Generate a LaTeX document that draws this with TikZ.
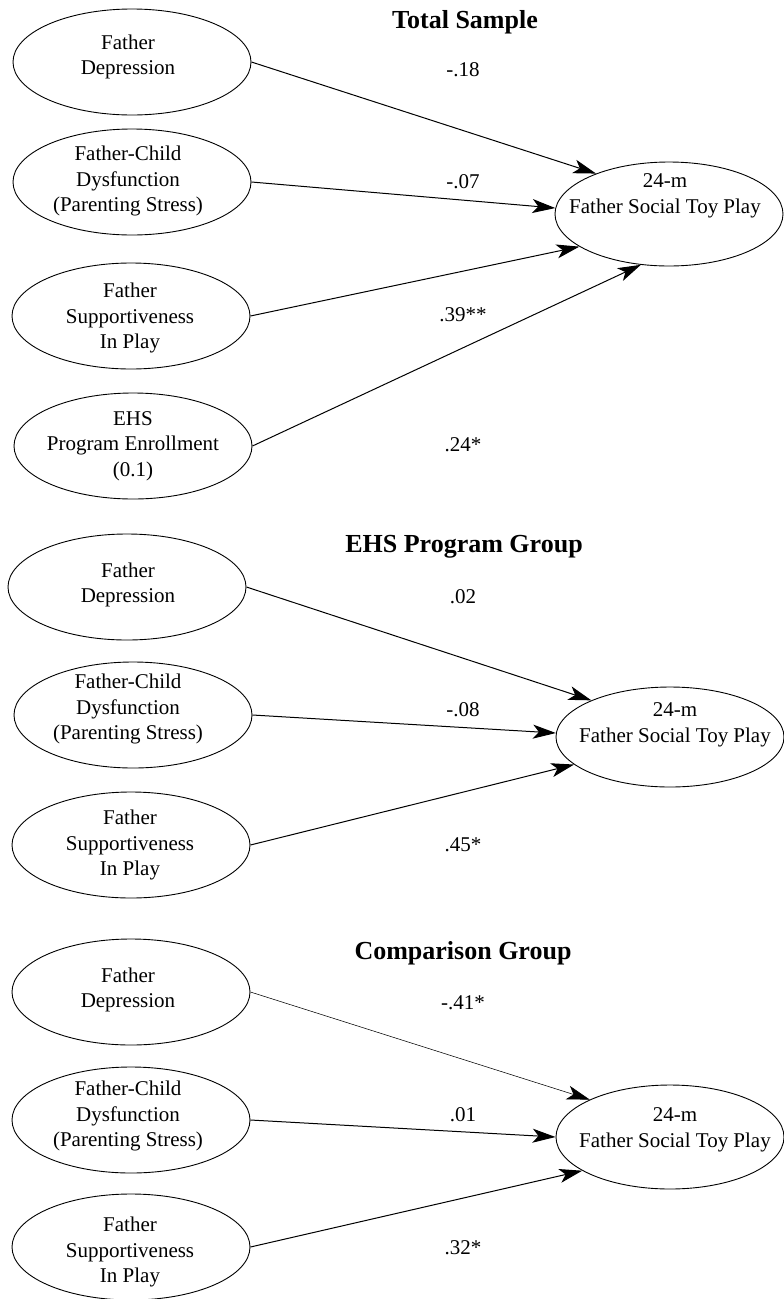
\documentclass[tikz,border=0pt]{standalone}
\usepackage{fontspec}
\setmainfont{Liberation Serif}
\usetikzlibrary{shapes.geometric,arrows.meta}
\begin{document}
\begin{tikzpicture}[x=1pt,y=-1pt,
  ell/.style={draw,ellipse,line width=0.9pt,inner sep=0pt,minimum width=238pt,minimum height=106pt},
  tgt/.style={draw,ellipse,line width=0.9pt,inner sep=0pt,minimum width=228pt,minimum height=104pt},
  txt/.style={align=center,inner sep=0pt,font=\fontsize{21}{25.5}\selectfont},
  coef/.style={inner sep=0pt,font=\fontsize{21}{25.5}\selectfont},
  ttl/.style={inner sep=0pt,font=\fontsize{26}{30}\selectfont\bfseries},
  path/.style={line width=1pt,-{Stealth[length=23pt,width=14pt,inset=6pt]}},
  thin path/.style={line width=0.55pt,-{Stealth[length=23pt,width=14pt,inset=6pt]}}]
\useasboundingbox (0,0) rectangle (784,1299);
\fill[white] (0,0) rectangle (784,1299);

% ---------- Total Sample ----------
\node[ttl] (ttl1) at (465,22) {Total Sample};
\node[ell] (a1) at (132,62) {};
\node[txt] (a1t) at (128,57) {Father\\Depression};
\node[ell] (a2) at (132,182) {};
\node[txt] (a2t) at (128,181) {Father-Child\\Dysfunction\\(Parenting Stress)};
\node[ell] (a3) at (131,316) {};
\node[txt] (a3t) at (130,318) {Father\\Supportiveness\\In Play};
\node[ell] (a4) at (133,446) {};
\node[txt] (a4t) at (133,446) {EHS\\Program Enrollment\\(0.1)};
\node[tgt] (ta) at (669,214) {};
\node[txt] (tat) at (665,196) {24-m\\Father Social Toy Play};
\draw[path] (a1.east) -- (ta.151);
\draw[path] (a2.east) -- (ta.177);
\draw[path] (a3.east) -- (ta.200);
\draw[path] (a4.east) -- (ta.241);
\node[coef] (ca1) at (463,70) {-.18};
\node[coef] (ca2) at (463,182) {-.07};
\node[coef] (ca3) at (463,315) {.39**};
\node[coef] (ca4) at (463,445) {.24*};

% ---------- EHS Program Group ----------
\node[ttl] (ttl2) at (464,547) {EHS Program Group};
\node[ell] (b1) at (127,587) {};
\node[txt] (b1t) at (128,585) {Father\\Depression};
\node[ell] (b2) at (133,715) {};
\node[txt] (b2t) at (128,709) {Father-Child\\Dysfunction\\(Parenting Stress)};
\node[ell] (b3) at (131,845) {};
\node[txt] (b3t) at (130,845) {Father\\Supportiveness\\In Play};
\node[tgt,minimum height=100pt] (tb) at (670,737) {};
\node[txt] (tbt) at (675,725) {24-m\\Father Social Toy Play};
\draw[path] (b1.east) -- (tb.155);
\draw[path] (b2.east) -- (tb.178);
\draw[path] (b3.east) -- (tb.196);
\node[coef] (cb1) at (463,597) {.02};
\node[coef] (cb2) at (463,710) {-.08};
\node[coef] (cb3) at (463,845) {.45*};

% ---------- Comparison Group ----------
\node[ttl] (ttl3) at (463,953) {Comparison Group};
\node[ell] (c1) at (131,992) {};
\node[txt] (c1t) at (128,990) {Father\\Depression};
\node[ell] (c2) at (131,1120) {};
\node[txt] (c2t) at (128,1116) {Father-Child\\Dysfunction\\(Parenting Stress)};
\node[ell] (c3) at (131,1247) {};
\node[txt] (c3t) at (130,1252) {Father\\Supportiveness\\In Play};
\node[tgt] (tc) at (670,1137) {};
\node[txt] (tct) at (675,1130) {24-m\\Father Social Toy Play};
\draw[thin path] (c1.east) -- (tc.155);
\draw[path] (c2.east) -- (tc.180);
\draw[path] (c3.east) -- (tc.201);
\node[coef] (cc1) at (463,1003) {-.41*};
\node[coef] (cc2) at (463,1115) {.01};
\node[coef] (cc3) at (463,1248) {.32*};
\end{tikzpicture}
\end{document}
